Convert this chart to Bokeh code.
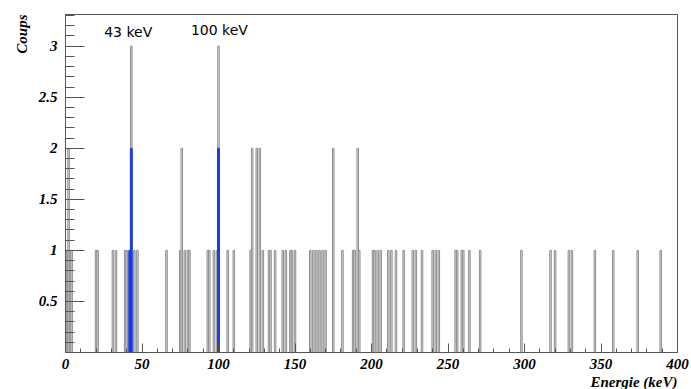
from bokeh.plotting import figure
from bokeh.models import Range1d, FixedTicker, SingleIntervalTicker, Label, Title, ColumnDataSource
from bokeh.embed import file_html
from bokeh.resources import INLINE

# Gray histogram: all events (energy bin in keV, counts)
energies = [1, 2, 3, 4, 20, 21, 31, 33, 39, 40, 42, 43, 45, 47, 66, 75, 76, 78, 80, 81,
            93, 94, 97, 99, 100, 106, 110, 121, 122, 125, 127, 129, 133, 134, 137, 142,
            144, 147, 148, 150, 160, 162, 164, 166, 168, 170, 175, 181, 188, 189, 191,
            192, 201, 202, 204, 206, 211, 213, 216, 221, 227, 229, 233, 240, 242, 244,
            255, 256, 259, 260, 264, 271, 298, 317, 320, 329, 331, 346, 358, 374, 389]
counts = [1, 2, 1, 1, 1, 1, 1, 1, 1, 1, 1, 3, 1, 1, 1, 1, 2, 1, 1, 1,
          1, 1, 1, 1, 3, 1, 1, 1, 2, 2, 2, 1, 1, 1, 1, 1,
          1, 1, 1, 1, 1, 1, 1, 1, 1, 1, 2, 1, 1, 1, 2,
          1, 1, 1, 1, 1, 1, 1, 1, 1, 1, 1, 1, 1, 1, 1,
          1, 1, 1, 1, 1, 1, 1, 1, 1, 1, 1, 1, 1, 1, 1]

# Blue histogram: selected events
sel_energies = [42, 43, 100]
sel_counts = [1, 2, 2]

# Peak annotations
peak_labels = ["43 keV", "100 keV"]
peak_x = [41, 100.6]
peak_y = [3.14, 3.16]

x_ticks_interval = 50
y_ticks = [0.5, 1, 1.5, 2, 2.5, 3]

p = figure(width=691, height=389, output_backend="svg", toolbar_location=None,
           x_range=Range1d(0, 400), y_range=Range1d(0, 3.31),
           min_border_left=65, min_border_right=14, min_border_top=14, min_border_bottom=37)
p.xgrid.visible = False
p.ygrid.visible = False
p.outline_line_color = "#555555"
p.outline_line_width = 1

src = ColumnDataSource(dict(x=energies, top=counts))
p.vbar(x="x", top="top", bottom=0, width=1, source=src,
       fill_color="#dcdcdc", line_color="#8f8f8f", line_width=1)

src2 = ColumnDataSource(dict(x=sel_energies, top=sel_counts))
p.vbar(x="x", top="top", bottom=0, width=1.2, source=src2,
       fill_color="#1a3ae6", line_color="#1a3ae6", line_width=1)

label_font = "Liberation Serif"
# X axis
xa = p.xaxis[0]
xa.ticker = SingleIntervalTicker(interval=x_ticks_interval, num_minor_ticks=5)
xa.major_tick_in = 9
xa.major_tick_out = 0
xa.minor_tick_in = 4
xa.minor_tick_out = 0
xa.axis_line_color = "#555555"
xa.major_tick_line_color = "#555555"
xa.minor_tick_line_color = "#555555"
xa.major_label_text_font = label_font
xa.major_label_text_font_style = "bold italic"
xa.major_label_text_font_size = "15px"
xa.major_label_text_color = "black"
xa.major_label_standoff = 6

# Y axis
minor = [round(0.1 * i, 1) for i in range(1, 34) if (i % 5) != 0]
ya = p.yaxis[0]
ya.ticker = FixedTicker(ticks=y_ticks, minor_ticks=minor)
ya.major_tick_in = 19
ya.major_tick_out = 0
ya.minor_tick_in = 9
ya.minor_tick_out = 0
ya.axis_line_color = "#555555"
ya.major_tick_line_color = "#555555"
ya.minor_tick_line_color = "#555555"
ya.major_label_text_font = label_font
ya.major_label_text_font_style = "bold italic"
ya.major_label_text_font_size = "15px"
ya.major_label_text_color = "black"
ya.major_label_standoff = 8

for t, x, y in zip(peak_labels, peak_x, peak_y):
    p.add_layout(Label(x=x, y=y, text=t, text_align="center", text_baseline="middle",
                       text_font="DejaVu Sans", text_font_size="14px", text_color="black"))

p.add_layout(Title(text="Coups", align="right", text_font=label_font,
                   text_font_style="bold italic", text_font_size="15px",
                   text_color="black", standoff=12), "left")
p.add_layout(Title(text="Energie (keV)", align="right", text_font=label_font,
                   text_font_style="bold italic", text_font_size="15px",
                   text_color="black", standoff=0), "below")

open("out.html", "w").write(file_html(p, INLINE))
